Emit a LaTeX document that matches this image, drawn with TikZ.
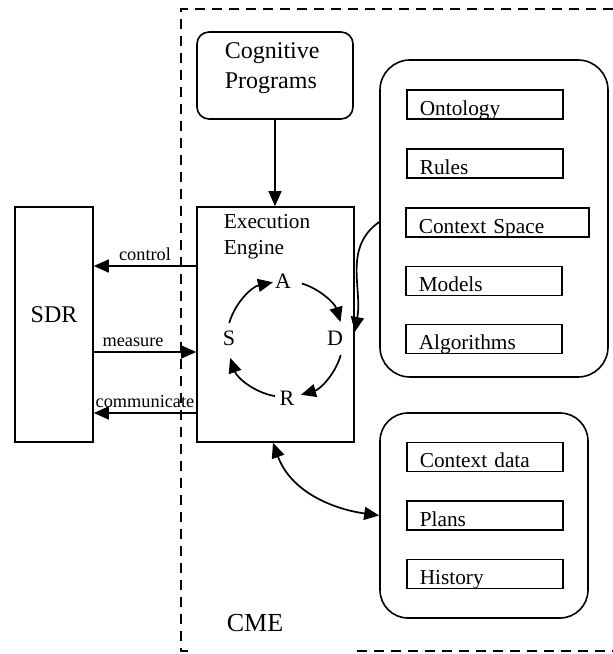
\documentclass[tikz,border=0pt]{standalone}
\usepackage{fontspec}
\setmainfont{Liberation Serif}
\usetikzlibrary{arrows.meta}
\newcommand\fbig{\fontsize{24pt}{29.5pt}\selectfont}
\newcommand\fmid{\fontsize{21.3pt}{25.5pt}\selectfont}
\newcommand\fsmall{\fontsize{18.3pt}{22pt}\selectfont}
\newcommand\fcyc{\fontsize{22pt}{26pt}\selectfont}
\newcommand\fcme{\fontsize{26pt}{30pt}\selectfont}
\tikzset{
  box/.style={draw,line width=1.6pt,inner sep=0pt},
  rbox/.style={box,rounded corners=#1},
  slot/.style={draw,line width=1.6pt,anchor=west,inner xsep=13pt,inner ysep=0pt,
    text height=25.5pt,text depth=3.5pt,align=left,font=\fmid},
  txt/.style={anchor=north west,align=left,inner sep=0pt},
  lbl/.style={above=4.5pt,font=\fsmall,inner sep=0pt},
  cme line/.style={line width=1.6pt,dash pattern=on 10pt off 7pt}
}
\begin{document}
\begin{tikzpicture}[x=1pt,y=1pt,>={Triangle[length=15pt,width=13pt]},line width=1.7pt]
\useasboundingbox (0,0) rectangle (613,654);
\draw[cme line] (613,645)--(181,645)--(181,3)--(190,3);
\draw[cme line] (357,3)--(613,3);
\node[font=\fcme] (cme) at (255,31) {CME};

\node[rbox=12pt,minimum width=156pt,minimum height=87pt] (cog) at (275,578.5) {};
\node[txt,font=\fbig] (cogtxt) at (224,612) {Cognitive\\Programs};
\node[box,minimum width=157pt,minimum height=235pt] (eng) at (275.5,329.5) {};
\node[txt,font=\fmid] (engtxt) at (223,440) {Execution\\Engine};
\node[box,minimum width=78pt,minimum height=235pt] (sdr) at (54,329.5) {};
\node[font=\fbig] (sdrtxt) at (54,339) {SDR};
\draw[->] (cog.south) -- (cog.south |- eng.north);

\draw[->] (eng.west |- 0,388) -- node[lbl]{control} (sdr.east |- 0,388);
\draw[->] (sdr.east |- 0,302) -- node[lbl,xshift=-12pt]{measure} (eng.west |- 0,302);
\draw[->] (eng.west |- 0,241) -- node[lbl]{communicate} (sdr.east |- 0,241);

\coordinate (cyc) at (285,315);
\node[font=\fcyc] (nA) at (283,373) {A};
\node[font=\fcyc] (nD) at (335,316) {D};
\node[font=\fcyc] (nR) at (287,256) {R};
\node[font=\fcyc] (nS) at (229,316) {S};
\draw[->] (cyc) ++(164:58) arc[start angle=164,end angle=102,radius=58];
\draw[->] (cyc) ++(73:58) arc[start angle=73,end angle=17,radius=58];
\draw[->] (cyc) ++(-16:58) arc[start angle=-16,end angle=-74,radius=58];
\draw[->] (cyc) ++(-100:58) arc[start angle=-100,end angle=-161,radius=58];

\node[rbox=30pt,minimum width=228pt,minimum height=317pt] (kb) at (494,435.5) {};
\node[slot,text width=130pt] (onto) at (406,549.5) {Ontology};
\node[slot,text width=130pt] (rules) at (406,490.5) {Rules};
\node[slot,text width=157pt] (cspace) at (405,431.5) {Context Space};
\node[slot,text width=130pt] (models) at (405,373) {Models};
\node[slot,text width=130pt] (algo) at (405,315) {Algorithms};
\draw[->] ([yshift=-3.5pt]kb.west) to[out=215,in=80] ([yshift=-7.5pt]eng.east);

\node[rbox=28pt,minimum width=208pt,minimum height=205pt] (dat) at (484,138.5) {};
\node[slot,text width=130pt] (cdata) at (406,197) {Context data};
\node[slot,text width=130pt] (plans) at (406,138.5) {Plans};
\node[slot,text width=130pt] (hist) at (406,80) {History};
\draw[<->] ([xshift=-2.5pt]eng.south) to[out=-70,in=172] (dat.west);
\end{tikzpicture}
\end{document}
